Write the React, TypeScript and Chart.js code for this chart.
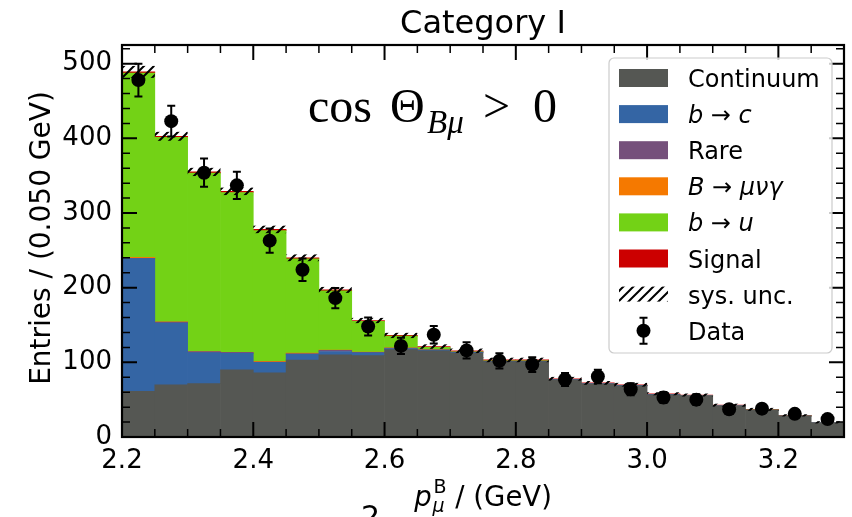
import React, { useEffect, useRef } from 'react';
import { Chart, registerables } from 'chart.js';

Chart.register(...registerables);

// ---------------- data ----------------
const binCenters = [
  2.225, 2.275, 2.325, 2.375, 2.425, 2.475, 2.525, 2.575, 2.625, 2.675, 2.725,
  2.775, 2.825, 2.875, 2.925, 2.975, 3.025, 3.075, 3.125, 3.175, 3.225, 3.275,
];
const binWidth = 0.05;

const continuum = [61, 70, 71.5, 90, 86, 103, 110, 109, 117, 115.5, 112.5, 101, 101, 76.5, 71, 68.5, 56.5, 55, 41.5, 36, 28, 18.8];
const bToC = [178, 82.5, 41.5, 22, 14, 8, 4.5, 3.7, 1.5, 1, 0.8, 0.5, 0.5, 0.3, 0.3, 0.3, 0.2, 0.2, 0.1, 0.1, 0.1, 0.1];
const rare = [0.3, 1.5, 1.3, 1.3, 0.3, 0.5, 1.5, 0.8, 0.5, 0.4, 0.3, 0.2, 0.2, 0.1, 0.1, 0.1, 0.1, 0.1, 0.1, 0.1, 0.1, 0.1];
const bToMuNuGamma = [1.2, 0.2, 0.2, 0.2, 1.2, 1, 0.3, 0.3, 0.3, 0.2, 0.2, 0.1, 0.1, 0.1, 0.1, 0.1, 0.1, 0.1, 0.1, 0.1, 0.1, 0.1];
const bToU = [247, 247, 239, 214, 175, 126, 79.5, 41, 15.7, 3, 0.6, 0.4, 0.4, 0.2, 0.2, 0.2, 0.2, 0.1, 0.1, 0.1, 0.1, 0.1];
const signal = [1.5, 1.5, 1.5, 1.5, 1.5, 1.5, 1.2, 1.2, 1, 1, 1, 1, 1, 0.8, 0.8, 0.8, 0.8, 0.7, 0.7, 0.6, 0.6, 0.5];
const sysUnc = [8, 6, 5.5, 5, 5, 4.5, 4, 3.5, 3.5, 3, 3, 3, 3, 2.5, 2.5, 2.5, 2, 2, 2, 2, 1.5, 1.5];

const dataValues = [478, 423, 354, 337, 263, 224, 186, 148, 122, 137, 116, 102, 97, 77, 81, 64, 53, 50, 37, 38, 31, 24];
const dataErrors = [22, 20.5, 19, 18.4, 16.2, 15, 13.6, 12.2, 11, 11.7, 10.8, 10.1, 9.8, 8.8, 9, 8, 7.3, 7.1, 6.1, 6.2, 5.6, 4.9];

const xTickValues = [2.2, 2.4, 2.6, 2.8, 3.0, 3.2];
const yTickValues = [0, 100, 200, 300, 400, 500];
const xMin = 2.2;
const xMax = 3.3;
const yMin = 0;
const yMax = 525;
const yMinorStep = 20;

const COLORS = {
  continuum: '#555753',
  bc: '#3465a4',
  rare: '#75507b',
  bmng: '#f57900',
  bu: '#73d216',
  signal: '#cc0000',
};

const components = [
  { label: 'Continuum', values: continuum, color: COLORS.continuum },
  { label: 'b → c', values: bToC, color: COLORS.bc },
  { label: 'Rare', values: rare, color: COLORS.rare },
  { label: 'B → μνγ', values: bToMuNuGamma, color: COLORS.bmng },
  { label: 'b → u', values: bToU, color: COLORS.bu },
  { label: 'Signal', values: signal, color: COLORS.signal },
];

type Seg = { t: string; i?: boolean };
const legendEntries: { kind: string; color?: string; segs: Seg[] }[] = [
  { kind: 'box', color: COLORS.continuum, segs: [{ t: 'Continuum' }] },
  { kind: 'box', color: COLORS.bc, segs: [{ t: 'b', i: true }, { t: ' → ' }, { t: 'c', i: true }] },
  { kind: 'box', color: COLORS.rare, segs: [{ t: 'Rare' }] },
  { kind: 'box', color: COLORS.bmng, segs: [{ t: 'B', i: true }, { t: ' → ' }, { t: 'μνγ', i: true }] },
  { kind: 'box', color: COLORS.bu, segs: [{ t: 'b', i: true }, { t: ' → ' }, { t: 'u', i: true }] },
  { kind: 'box', color: COLORS.signal, segs: [{ t: 'Signal' }] },
  { kind: 'hatch', segs: [{ t: 'sys. unc.' }] },
  { kind: 'data', segs: [{ t: 'Data' }] },
];

const SANS = '"DejaVu Sans"';
const SERIF = '"Liberation Serif"';

function makeHatch(ctx: CanvasRenderingContext2D) {
  const c = document.createElement('canvas');
  c.width = 10;
  c.height = 10;
  const g = c.getContext('2d')!;
  g.strokeStyle = '#000';
  g.lineWidth = 2;
  g.beginPath();
  g.moveTo(-2, 12);
  g.lineTo(12, -2);
  g.moveTo(-2, 2);
  g.lineTo(2, -2);
  g.moveTo(8, 12);
  g.lineTo(12, 8);
  g.stroke();
  return ctx.createPattern(c, 'repeat')!;
}

function drawSegs(ctx: CanvasRenderingContext2D, segs: Seg[], x: number, y: number, size: number) {
  let cx = x;
  for (const s of segs) {
    ctx.font = `${s.i ? 'italic ' : ''}${size}px ${SANS}`;
    ctx.fillText(s.t, cx, y);
    cx += ctx.measureText(s.t).width;
  }
  return cx;
}

function drawErrorBar(ctx: CanvasRenderingContext2D, x: number, yTop: number, yBot: number, cap: number) {
  ctx.beginPath();
  ctx.moveTo(x, yTop);
  ctx.lineTo(x, yBot);
  ctx.moveTo(x - cap, yTop);
  ctx.lineTo(x + cap, yTop);
  ctx.moveTo(x - cap, yBot);
  ctx.lineTo(x + cap, yBot);
  ctx.stroke();
}

const histPlugin = {
  id: 'histExtras',
  beforeDatasetDraw(chart: any, args: any) {
    if (args.meta.type !== 'scatter') return;
    const ctx: CanvasRenderingContext2D = chart.ctx;
    const xs = chart.scales.x;
    const ys = chart.scales.y;
    // systematic uncertainty band (hatched)
    const pattern = makeHatch(ctx);
    ctx.save();
    ctx.fillStyle = pattern;
    binCenters.forEach((c, i) => {
      const total = components.reduce((s, comp) => s + comp.values[i], 0);
      const xl = xs.getPixelForValue(c - binWidth / 2);
      const xr = xs.getPixelForValue(c + binWidth / 2);
      const yt = ys.getPixelForValue(total + sysUnc[i]);
      const yb = ys.getPixelForValue(total - sysUnc[i]);
      ctx.fillRect(xl, yt, xr - xl, yb - yt);
    });
    // error bars of data
    ctx.strokeStyle = '#000';
    ctx.lineWidth = 2;
    binCenters.forEach((c, i) => {
      const x = xs.getPixelForValue(c);
      drawErrorBar(ctx, x, ys.getPixelForValue(dataValues[i] + dataErrors[i]), ys.getPixelForValue(dataValues[i] - dataErrors[i]), 4);
    });
    ctx.restore();
  },
  afterDraw(chart: any) {
    const ctx: CanvasRenderingContext2D = chart.ctx;
    const { left, right, top, bottom } = chart.chartArea;
    const xs = chart.scales.x;
    const ys = chart.scales.y;
    ctx.save();
    ctx.strokeStyle = '#000';
    // minor x ticks at bin edges
    const edges = binCenters.map((c) => c - binWidth / 2).concat([binCenters[binCenters.length - 1] + binWidth / 2]);
    ctx.lineWidth = 1.5;
    ctx.beginPath();
    edges.forEach((e) => {
      if (xTickValues.some((t) => Math.abs(t - e) < 1e-6)) return;
      const x = xs.getPixelForValue(e);
      ctx.moveTo(x, bottom);
      ctx.lineTo(x, bottom - 8);
      ctx.moveTo(x, top);
      ctx.lineTo(x, top + 8);
    });
    for (let v = yMin + yMinorStep; v < yMax; v += yMinorStep) {
      if (yTickValues.includes(v)) continue;
      const y = ys.getPixelForValue(v);
      ctx.moveTo(left, y);
      ctx.lineTo(left + 8, y);
      ctx.moveTo(right, y);
      ctx.lineTo(right - 8, y);
    }
    ctx.stroke();
    ctx.lineWidth = 2;
    ctx.beginPath();
    xTickValues.forEach((t) => {
      const x = xs.getPixelForValue(t);
      ctx.moveTo(x, bottom);
      ctx.lineTo(x, bottom - 15);
      ctx.moveTo(x, top);
      ctx.lineTo(x, top + 15);
    });
    yTickValues.forEach((t) => {
      const y = ys.getPixelForValue(t);
      ctx.moveTo(left, y);
      ctx.lineTo(left + 15, y);
      ctx.moveTo(right, y);
      ctx.lineTo(right - 15, y);
    });
    ctx.stroke();
    ctx.lineWidth = 2.2;
    ctx.strokeRect(left, top, right - left, bottom - top);

    // title
    ctx.fillStyle = '#000';
    ctx.textAlign = 'center';
    ctx.textBaseline = 'alphabetic';
    ctx.font = `32px ${SANS}`;
    ctx.fillText('Category I', (left + right) / 2, top - 12);

    // y axis title
    ctx.save();
    ctx.translate(left - 72, (top + bottom) / 2 - 3);
    ctx.rotate(-Math.PI / 2);
    ctx.font = `28px ${SANS}`;
    ctx.fillText('Entries / (0.050 GeV)', 0, 0);
    ctx.restore();

    // x axis title: p_mu^B / (GeV)
    ctx.textAlign = 'left';
    const base = bottom + 69;
    const main = 27.5;
    const small = 19;
    ctx.font = `italic ${main}px ${SANS}`;
    const wp = ctx.measureText('p').width;
    ctx.font = `${small}px ${SANS}`;
    const wB = ctx.measureText('B').width;
    ctx.font = `${main}px ${SANS}`;
    const wRest = ctx.measureText(' / (GeV)').width;
    const total = wp + 2 + wB + wRest;
    let xx = (left + right) / 2 - total / 2;
    ctx.font = `italic ${main}px ${SANS}`;
    ctx.fillText('p', xx, base);
    xx += wp + 2;
    ctx.font = `${small}px ${SANS}`;
    ctx.fillText('B', xx, base - 13);
    ctx.font = `italic ${small}px ${SANS}`;
    ctx.fillText('μ', xx - 1, base + 6);
    xx += wB;
    ctx.font = `${main}px ${SANS}`;
    ctx.fillText(' / (GeV)', xx, base);

    // stray glyph at the bottom edge of the figure
    ctx.font = `30px ${SANS}`;
    ctx.fillText('2', left + 239, bottom + 90);

    // annotation cos Θ_{Bμ} > 0
    const ab = top + 77;
    ctx.font = `48px ${SERIF}`;
    ctx.fillText('cos', left + 186, ab);
    ctx.fillText('Θ', left + 268, ab);
    ctx.font = `italic 33px ${SERIF}`;
    ctx.fillText('Bμ', left + 305, ab + 11);
    ctx.font = `48px ${SERIF}`;
    ctx.fillText('>', left + 361, ab);
    ctx.fillText('0', left + 411, ab);

    // legend
    const lx = right - 235;
    const ly = top + 13;
    const lw = 223;
    const lh = 295;
    ctx.fillStyle = 'rgba(255,255,255,0.8)';
    ctx.strokeStyle = '#cccccc';
    ctx.lineWidth = 1.2;
    ctx.beginPath();
    ctx.roundRect(lx, ly, lw, lh, 5);
    ctx.fill();
    ctx.stroke();
    const hatch = makeHatch(ctx);
    legendEntries.forEach((e, k) => {
      const cy = ly + 20 + k * 36.1;
      const sx = lx + 10;
      if (e.kind === 'box') {
        ctx.fillStyle = e.color!;
        ctx.fillRect(sx, cy - 9, 49, 18);
      } else if (e.kind === 'hatch') {
        ctx.fillStyle = hatch;
        ctx.fillRect(sx, cy - 8, 49, 15);
      } else {
        ctx.strokeStyle = '#000';
        ctx.lineWidth = 2;
        drawErrorBar(ctx, sx + 24.5, cy - 13, cy + 13, 4);
        ctx.fillStyle = '#000';
        ctx.beginPath();
        ctx.arc(sx + 24.5, cy, 7, 0, Math.PI * 2);
        ctx.fill();
      }
      ctx.fillStyle = '#000';
      ctx.textAlign = 'left';
      ctx.textBaseline = 'alphabetic';
      drawSegs(ctx, e.segs, lx + 79, cy + 9, 24);
    });
    ctx.restore();
  },
};

export default function App() {
  const ref = useRef<HTMLCanvasElement>(null);
  useEffect(() => {
    document.body.style.margin = '0';
    const canvas = ref.current!;
    const barSets = components.map((c) => ({
      type: 'bar' as const,
      label: c.label,
      data: binCenters.map((x, i) => ({ x, y: c.values[i] })),
      backgroundColor: c.color,
      borderWidth: 0,
      barPercentage: 1,
      categoryPercentage: 1,
      stack: 'mc',
      order: 1,
    }));
    const dataSet = {
      type: 'scatter' as const,
      label: 'Data',
      data: binCenters.map((x, i) => ({ x, y: dataValues[i] })),
      backgroundColor: '#000',
      borderColor: '#000',
      borderWidth: 0,
      pointRadius: 7,
      pointHoverRadius: 7,
      stack: 'data',
      order: 0,
    };
    const tickFont = { family: 'DejaVu Sans', size: 26 };
    const chart = new Chart(canvas, {
      type: 'bar',
      data: { datasets: [...barSets, dataSet] as any },
      options: {
        animation: false,
        responsive: false,
        events: [],
        layout: { padding: { top: 45, right: 8, left: 0, bottom: 0 } },
        plugins: { legend: { display: false }, title: { display: false }, tooltip: { enabled: false } },
        scales: {
          x: {
            type: 'linear',
            min: xMin,
            max: xMax,
            offset: false,
            stacked: true,
            grid: { display: false, drawTicks: false },
            border: { display: false },
            ticks: {
              font: tickFont,
              color: '#000',
              padding: 9,
              maxRotation: 0,
              autoSkip: false,
              callback: (v: any) => Number(v).toFixed(1),
            },
            afterBuildTicks: (s: any) => {
              s.ticks = xTickValues.map((v) => ({ value: v }));
            },
            afterFit: (s: any) => {
              s.height = 80;
            },
          },
          y: {
            type: 'linear',
            min: yMin,
            max: yMax,
            stacked: true,
            grid: { display: false, drawTicks: false },
            border: { display: false },
            ticks: {
              font: tickFont,
              color: '#000',
              padding: 10,
              autoSkip: false,
              callback: (v: any) => String(v),
            },
            afterBuildTicks: (s: any) => {
              s.ticks = yTickValues.map((v) => ({ value: v }));
            },
            afterFit: (s: any) => {
              s.width = 122;
            },
          },
        },
      } as any,
      plugins: [histPlugin],
    });
    return () => chart.destroy();
  }, []);
  return <canvas ref={ref} width={852} height={517} style={{ display: 'block', width: 852, height: 517 }} />;
}
